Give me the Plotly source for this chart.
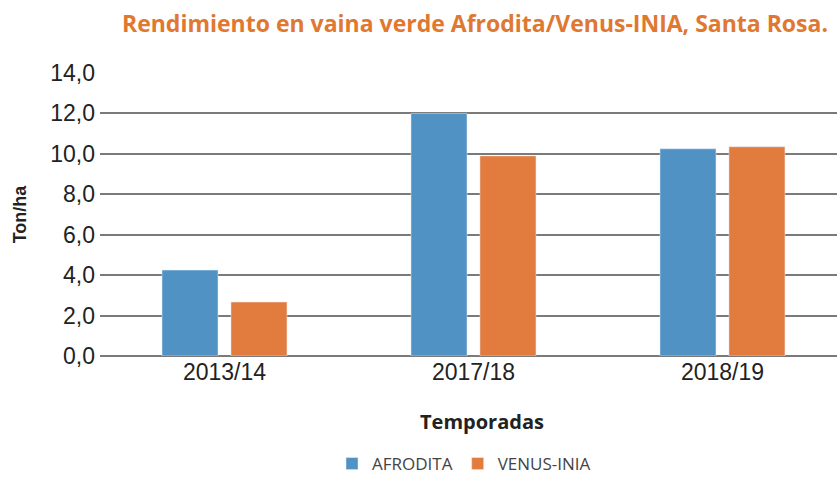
import plotly.graph_objects as go

temporadas = ["2013/14", "2017/18", "2018/19"]
afrodita = [4.25, 12.0, 10.25]
venus_inia = [2.67, 9.9, 10.35]
y_ticks = [0, 2, 4, 6, 8, 10, 12, 14]

fig = go.Figure()
fig.add_trace(go.Bar(name="AFRODITA", x=temporadas, y=afrodita, marker_color="#5192C5"))
fig.add_trace(go.Bar(name="VENUS-INIA", x=temporadas, y=venus_inia, marker_color="#E27C3E"))

fig.update_layout(
    width=837, height=477,
    margin=dict(l=100, r=0, t=73, b=121, autoexpand=False),
    paper_bgcolor="white", plot_bgcolor="white",
    separators=",.",
    barmode="group", bargap=0.446, bargroupgap=0.188,
    title=dict(
        text="Rendimiento en vaina verde Afrodita/Venus-INIA, Santa Rosa.",
        font=dict(family="Open Sans", size=23, color="#E07830", weight="bold"),
        x=828 / 837, xanchor="right", xref="container",
        y=1 - 24 / 477, yanchor="middle", yref="container",
    ),
    xaxis=dict(
        type="category",
        range=[-0.5, 2.46],
        showgrid=False, showline=False, zeroline=False,
        tickfont=dict(family="Liberation Sans", size=23, color="#222"),
        ticks="", ticklen=0,
    ),
    yaxis=dict(
        range=[0, 14],
        tickvals=y_ticks,
        tickformat=".1f",
        showgrid=True, gridcolor="#7a7a7a", gridwidth=1.5,
        zeroline=True, zerolinecolor="#7a7a7a", zerolinewidth=1.5,
        showline=False,
        ticks="",
        ticklabelstandoff=4,
        tickfont=dict(family="Liberation Sans", size=23, color="#222"),
        title=dict(text="<b>Ton/ha</b>", font=dict(family="Liberation Sans", size=18, color="#222"), standoff=18),
    ),
    annotations=[
        dict(
            text="Temporadas", xref="paper", yref="paper",
            x=(482 - 100) / 737, y=(356 - 421) / 283,
            xanchor="center", yanchor="middle", showarrow=False,
            font=dict(family="Open Sans", size=20, color="#222", weight="bold"),
        )
    ],
    legend=dict(
        orientation="h", xref="container", yref="container",
        x=464 / 837, xanchor="center", y=1 - 464 / 477, yanchor="middle",
        font=dict(family="Open Sans", size=17, color="#444"),
        itemwidth=30, traceorder="normal",
    ),
)

fig.write_html(
    "out.html",
    config={"displayModeBar": False},
    post_script="document.body.style.margin='0';document.body.style.overflow='hidden';",
)
